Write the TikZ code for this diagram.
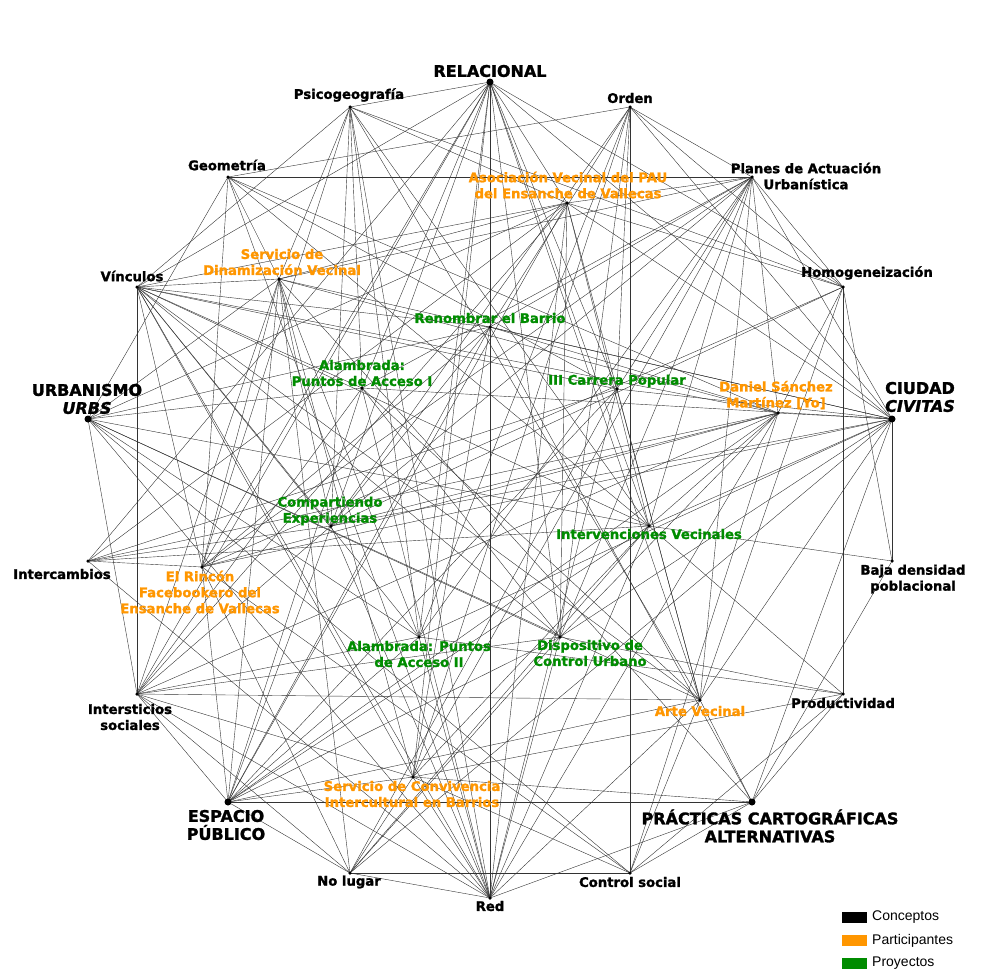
\documentclass[tikz,border=0pt]{standalone}
\usepackage{fontspec}
\setmainfont{DejaVu Sans}[BoldFeatures={FakeBold=1.6}, BoldItalicFeatures={FakeBold=1.6}]
\newfontfamily\legfont{Liberation Sans}
\definecolor{orng}{RGB}{255,150,0}
\definecolor{grn}{RGB}{0,140,0}
\pgfdeclarelayer{bg}
\pgfsetlayers{bg,main}
\begin{document}
\begin{tikzpicture}[x=1pt,y=-1pt,
  edge/.style={draw=black!80, line width=0.4pt},
  bigdot/.style={circle, fill=black, inner sep=0pt, minimum size=7pt},
  smalldot/.style={circle, fill=black, inner sep=0pt, minimum size=3.5pt},
  clab/.style={font=\bfseries\fontsize{13.2}{16}\selectfont, align=center, inner sep=0pt},
  blab/.style={font=\bfseries\fontsize{16}{18}\selectfont, align=center, inner sep=0pt},
  plab/.style={clab, text=orng},
  jlab/.style={clab, text=grn},
  legtxt/.style={font=\legfont\fontsize{14}{16}\selectfont, anchor=west, inner sep=0pt}]
\useasboundingbox (0,0) rectangle (980,980);
% concepts
\node[bigdot] (rel) at (490,82) {};
\node[smalldot] (psi) at (350,107) {};
\node[smalldot] (geo) at (228,177) {};
\node[smalldot] (vin) at (137,287) {};
\node[bigdot] (urb) at (88,419) {};
\node[smalldot] (inte) at (88,561) {};
\node[smalldot] (ints) at (137,694) {};
\node[bigdot] (esp) at (228,802) {};
\node[smalldot] (nol) at (350,873) {};
\node[smalldot] (red) at (490,898) {};
\node[smalldot] (con) at (630,873) {};
\node[bigdot] (pra) at (752,802) {};
\node[smalldot] (pro) at (843,694) {};
\node[smalldot] (baj) at (892,561) {};
\node[bigdot] (ciu) at (892,419) {};
\node[smalldot] (hom) at (843,287) {};
\node[smalldot] (pla) at (752,177) {};
\node[smalldot] (ord) at (630,107) {};
% participants and projects
\node[smalldot] (aso) at (567,203) {};
\node[smalldot] (din) at (279,279) {};
\node[smalldot] (ren) at (490,327) {};
\node[smalldot] (al1) at (362,388) {};
\node[smalldot] (car) at (617,389) {};
\node[smalldot] (dan) at (778,413) {};
\node[smalldot] (com) at (331,526) {};
\node[smalldot] (inv) at (649,526) {};
\node[smalldot] (rin) at (202,567) {};
\node[smalldot] (al2) at (419,637) {};
\node[smalldot] (dis) at (560,637) {};
\node[smalldot] (art) at (700,700) {};
\node[smalldot] (cnv) at (413,777) {};
% edges
\begin{pgfonlayer}{bg}
\foreach \a/\b in {rel/psi, rel/vin, rel/red, rel/ciu, rel/hom, rel/inte, rel/ints,
  psi/vin, psi/red, psi/hom, geo/pla, geo/ord, geo/urb, geo/red, ord/con, ord/pla, ord/hom, ord/ciu,
  vin/ints, hom/pro, hom/baj, esp/pra, esp/ints, nol/con, red/pra, red/ints, red/inte, red/urb, red/vin,
  ciu/baj, ciu/pra, pra/pro, pra/baj, urb/con, esp/nol, nol/red, con/pra, con/pro, con/dan, con/rin, pla/ciu, pla/hom,
  urb/din, urb/ints, ciu/nol, pro/inv, pro/al2, nol/ints,
  aso/rel, aso/urb, aso/ciu, aso/red, aso/vin, aso/inte, aso/ints, aso/esp, aso/art, aso/inv, aso/din, aso/pla, aso/hom, aso/psi, aso/dis,
  din/vin, din/geo, din/psi, din/dan, din/ciu, din/esp, din/ints, din/com, din/al2, din/cnv, din/pra, din/pla, din/rin, din/nol,
  ren/vin, ren/urb, ren/ciu, ren/dan, ren/com, ren/rin, ren/esp, ren/cnv, ren/pra, ren/pla, ren/ord,
  al1/rel, al1/red, al1/urb, al1/ciu, al1/vin, al1/ints, al1/esp, al1/dis, al1/art, al1/pla, al1/psi,
  car/rel, car/red, car/ciu, car/vin, car/inte, car/esp, car/art, car/pla, car/ord, car/geo, car/nol,
  dan/vin, dan/ciu, dan/inv, dan/dis, dan/inte, dan/rin, dan/ints, dan/com, dan/pla, dan/hom, dan/red, dan/geo, dan/esp,
  com/rel, com/red, com/ciu, com/inte, com/ints, com/esp, com/pla, com/hom, com/ord, com/psi, com/vin,
  inv/rel, inv/red, inv/ciu, inv/baj, inv/urb, inv/vin, inv/inte, inv/esp, inv/cnv, inv/pla, inv/psi, inv/geo, inv/nol,
  rin/rel, rin/ciu, rin/vin, rin/inte, rin/esp, rin/nol, rin/pla, rin/psi, rin/geo, rin/hom,
  al2/rel, al2/ciu, al2/vin, al2/urb, al2/ints, al2/esp, al2/red, al2/pla, al2/ord, al2/psi,
  dis/rel, dis/red, dis/urb, dis/ciu, dis/ints, dis/esp, dis/pla, dis/ord, dis/vin, dis/nol, dis/pro,
  art/rel, art/red, art/urb, art/ciu, art/ints, art/vin, art/esp, art/pra, art/pla, art/hom, art/con, art/psi,
  cnv/rel, cnv/ints, cnv/esp, cnv/vin, cnv/nol, cnv/red, cnv/con, cnv/pla, cnv/ord, cnv/pro, cnv/pra}
  \draw[edge] (\a.center) -- (\b.center);
\end{pgfonlayer}
% concept labels
\node[blab] (lrel) at (490,71) {RELACIONAL};
\node[clab] (lpsi) at (349,95) {Psicogeografía};
\node[clab] (lord) at (630,98) {Orden};
\node[clab] (lgeo) at (227,165) {Geometría};
\node[clab] (lpla) at (806,176) {Planes de Actuación\\Urbanística};
\node[clab] (lvin) at (132,276) {Vínculos};
\node[clab] (lhom) at (867,273) {Homogeneización};
\node[blab] (lurb) at (87,399) {URBANISMO\\\itshape URBS};
\node[blab] (lciu) at (920,397) {CIUDAD\\\itshape CIVITAS};
\node[clab] (linte) at (62,574) {Intercambios};
\node[clab] (lbaj) at (913,579) {Baja densidad\\poblacional};
\node[clab] (lints) at (130,717) {Intersticios\\sociales};
\node[clab] (lpro) at (843,703) {Productividad};
\node[blab] (lesp) at (226,825) {ESPACIO\\PÚBLICO};
\node[blab] (lpra) at (770,826) {PRÁCTICAS CARTOGRÁFICAS\\ALTERNATIVAS};
\node[clab] (lnol) at (349,882) {No lugar};
\node[clab] (lcon) at (630,882) {Control social};
\node[clab] (lred) at (490,906) {Red};
% participant / project labels
\node[plab] (laso) at (568,185) {Asociación Vecinal del PAU\\del Ensanche de Vallecas};
\node[plab] (ldin) at (282,262) {Servicio de\\Dinamización Vecinal};
\node[jlab] (lren) at (490,318) {Renombrar el Barrio};
\node[jlab] (lal1) at (362,373) {Alambrada:\\Puntos de Acceso I};
\node[jlab] (lcar) at (617,381) {III Carrera Popular};
\node[plab] (ldan) at (776,395) {Daniel Sánchez\\Martínez [Yo]};
\node[jlab] (lcom) at (330,511) {Compartiendo\\Experiencias};
\node[jlab] (linv) at (649,534) {Intervenciones Vecinales};
\node[plab] (lrin) at (200,592) {El Rincón\\Facebookero del\\Ensanche de Vallecas};
\node[jlab] (lal2) at (419,654) {Alambrada: Puntos\\de Acceso II};
\node[jlab] (ldis) at (590,653) {Dispositivo de\\Control Urbano};
\node[plab] (lart) at (700,711) {Arte Vecinal};
\node[plab] (lcnv) at (412,794) {Servicio de Convivencia\\Intercultural en Barrios};
% legend
\fill[black] (842,912) rectangle (867,923);
\fill[orng] (842,935) rectangle (867,946);
\fill[grn] (842,958) rectangle (867,969);
\node[legtxt] (lg1) at (872,917.5) {Conceptos};
\node[legtxt] (lg2) at (872,940.5) {Participantes};
\node[legtxt] (lg3) at (872,963.5) {Proyectos};
\end{tikzpicture}
\end{document}
